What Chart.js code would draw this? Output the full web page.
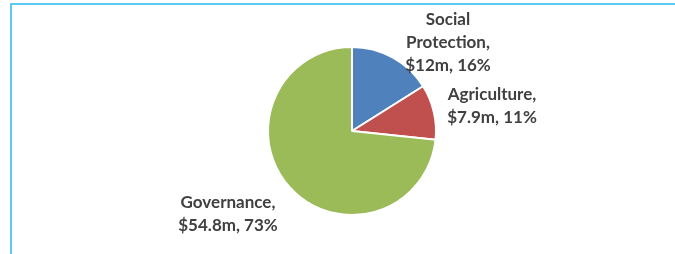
<!DOCTYPE html>
<html>
<head>
<meta charset="utf-8">
<script src="https://cdn.jsdelivr.net/npm/chart.js@4"></script>
<style>
  html, body { margin: 0; padding: 0; background: #fff; }
  #wrap { position: relative; width: 675px; height: 254px; }
  #frame {
    position: absolute; left: 10px; top: 3px; right: 0; bottom: 0;
    border-left: 2px solid #5BC9F2; border-top: 2px solid #5BC9F2;
    pointer-events: none;
  }
</style>
</head>
<body>
<div id="wrap">
  <canvas id="pieChart" width="675" height="254"></canvas>
  <div id="frame"></div>
</div>
<script>
// Funding by sector ($m)
const sectors = ['Social Protection', 'Agriculture', 'Governance'];
const amounts = [12, 7.9, 54.8];
const amountLabels = ['$12m', '$7.9m', '$54.8m'];
const colors = ['#4F81BD', '#C0504D', '#9BBB59'];

// label lines and where to put them, relative to the pie centre
const labelLines = [
    ['Social', 'Protection,'],
    ['Agriculture,'],
    ['Governance,']
];
const labelOffsets = [[96, -88], [140, -25], [-124, 83]];

const total = amounts.reduce((a, b) => a + b, 0);

// draws the data labels next to each slice
const sliceLabels = {
    id: 'sliceLabels',
    afterDatasetsDraw(chart) {
        const ctx = chart.ctx;
        const meta = chart.getDatasetMeta(0);
        ctx.save();
        ctx.font = 'bold 17px Lato';
        ctx.fillStyle = '#404040';
        ctx.textAlign = 'center';
        ctx.textBaseline = 'middle';
        meta.data.forEach((arc, i) => {
            const pct = Math.round(amounts[i] / total * 100);
            const lines = labelLines[i].concat([amountLabels[i] + ', ' + pct + '%']);
            const x = arc.x + labelOffsets[i][0];
            const y0 = arc.y + labelOffsets[i][1];
            const lh = 23;
            const top = y0 - (lines.length - 1) * lh / 2;
            lines.forEach((t, j) => ctx.fillText(t, x, top + j * lh));
        });
        ctx.restore();
    }
};

const ctx = document.getElementById('pieChart').getContext('2d');
new Chart(ctx, {
    type: 'pie',
    data: {
        labels: sectors,
        datasets: [{
            data: amounts,
            backgroundColor: colors,
            borderColor: '#ffffff',
            borderWidth: 2,
            radius: 84
        }]
    },
    options: {
        responsive: false,
        animation: false,
        layout: { padding: { left: 29, right: 0, top: 8, bottom: 0 } },
        plugins: {
            legend: { display: false },
            tooltip: { enabled: false }
        }
    },
    plugins: [sliceLabels]
});
</script>
</body>
</html>
